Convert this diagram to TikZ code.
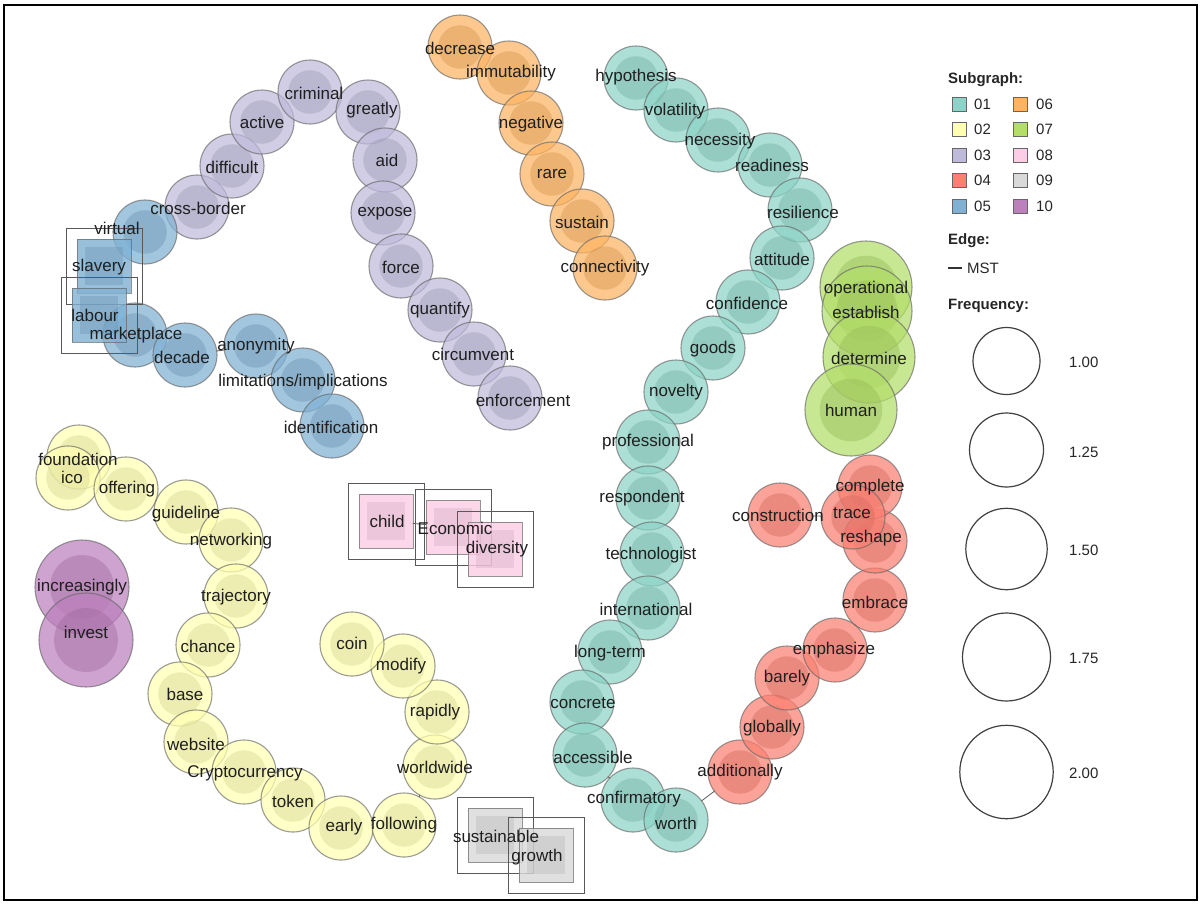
\documentclass[tikz,border=0pt]{standalone}
\usepackage{fontspec}
\setmainfont{Liberation Sans}
\definecolor{c01}{HTML}{8DD3C7}
\definecolor{c02}{HTML}{FFFFB3}
\definecolor{c03}{HTML}{BEBADA}
\definecolor{c04}{HTML}{FB8072}
\definecolor{c05}{HTML}{80B1D3}
\definecolor{c06}{HTML}{FDB462}
\definecolor{c07}{HTML}{B3DE69}
\definecolor{c08}{HTML}{FCCDE5}
\definecolor{c09}{HTML}{D9D9D9}
\definecolor{c10}{HTML}{BC80BD}
\def\circlist{
crossborder/197/207/32/c03/198/208/cross-border,
difficult/232/166/32/c03/232/167/difficult,
active/262/122/32/c03/262/122/active,
criminal/310/92/32/c03/314/93/criminal,
greatly/368/112/32/c03/372/110/greatly,
aid/385/160/32/c03/387/160/aid,
expose/383/213/32/c03/385/214/expose,
force/401/266/32/c03/401/267/force,
quantify/440/310/32/c03/440/310/quantify,
circumvent/474/354/32/c03/473/354/circumvent,
enforcement/510/398/32/c03/523/400/enforcement,
virtual/145/232/32/c05/117/228/virtual,
marketplace/135/335/32/c05/136/335/marketplace,
decade/185/355/32/c05/182/357/decade,
anonymity/256/346/32/c05/256/346/anonymity,
limitations/303/380/32/c05/303/382/{limitations/implications},
identification/332/426/32/c05/331/427/identification,
decrease/460/47/32/c06/460/48/decrease,
immutability/509/73/32/c06/511/73/immutability,
negative/531/123/32/c06/531/124/negative,
rare/552/174/32/c06/552/174/rare,
sustain/582/221/32/c06/582/222/sustain,
connectivity/605/268/32/c06/605/268/connectivity,
hypothesis/636/78/32/c01/636/77/hypothesis,
volatility/676/110/32/c01/675/111/volatility,
necessity/718/140/32/c01/720/141/necessity,
readiness/770/165/32/c01/772/165/readiness,
resilience/800/210/32/c01/803/212/resilience,
attitude/782/258/32/c01/782/259/attitude,
confidence/748/302/32/c01/747/303/confidence,
goods/713/348/32/c01/713/349/goods,
novelty/676/392/32/c01/676/392/novelty,
professional/648/442/32/c01/648/442/professional,
respondent/648/498/32/c01/642/498/respondent,
technologist/652/554/32/c01/651/555/technologist,
international/648/608/32/c01/646/609/international,
longterm/610/652/32/c01/610/653/long-term,
concrete/582/702/32/c01/583/703/concrete,
accessible/585/755/32/c01/593/757/accessible,
confirmatory/633/800/32/c01/634/799/confirmatory,
worth/676/820/32/c01/676/823/worth,
additionally/740/772/32/c04/740/772/additionally,
globally/772/727/32/c04/772/728/globally,
barely/787/678/32/c04/787/678/barely,
emphasize/835/650/32/c04/834/650/emphasize,
embrace/875/600/32/c04/875/602/embrace,
reshape/875/541/32/c04/871/538/reshape,
complete/870/487/32/c04/870/487/complete,
trace/853/517/32/c04/852/513/trace,
construction/780/515/32/c04/778/515/construction,
operational/866/287/46/c07/866/289/operational,
establish/867/311/45/c07/866/312/establish,
determine/869/357/46/c07/869/358/determine,
human/851/410/46/c07/851/410/human,
increasingly/82/587/47/c10/82/587/increasingly,
invest/86/640/47/c10/86/632/invest,
foundation/79/457/32/c02/78/459/foundation,
ico/68/478/32/c02/72/477/ico,
offering/126/489/32/c02/127/489/offering,
guideline/186/512/32/c02/186/514/guideline,
networking/231/540/32/c02/231/541/networking,
trajectory/236/596/32/c02/236/597/trajectory,
chance/208/645/32/c02/208/646/chance,
base/180/694/32/c02/185/694/base,
website/196/742/32/c02/196/744/website,
cryptocurrency/244/772/32/c02/245/773/Cryptocurrency,
token/293/800/32/c02/293/801/token,
early/341/828/32/c02/344/827/early,
following/404/825/32/c02/404/825/following,
worldwide/435/767/32/c02/435/767/worldwide,
rapidly/437/712/32/c02/435/712/rapidly,
modify/403/666/32/c02/401/666/modify,
coin/352/644/32/c02/352/643/coin}
\def\sqlist{
slavery/104/266/c05/99/267/slavery,
labour/99/315/c05/95/315/labour,
child/386/521/c08/387/521/child,
economic/453/527/c08/455/528/Economic,
diversity/495/549/c08/497/549/diversity,
sustainable/495/835/c09/496/836/sustainable,
growth/546/855/c09/537/857/growth}
\begin{document}
\begin{tikzpicture}[x=1pt,y=-1pt,
  wout/.style={circle, draw=black!60, draw opacity=0.65, line width=1.1pt, fill opacity=0.72, inner sep=0pt},
  sqout/.style={rectangle, draw=black!65, line width=1pt, minimum size=76pt, inner sep=0pt},
  sqin/.style={rectangle, draw=black!60, draw opacity=0.7, line width=1pt, fill opacity=0.8, minimum size=54pt, inner sep=0pt},
  wlab/.style={font=\fontsize{17}{19}\selectfont, text=black!88, inner sep=0pt},
  edge/.style={draw=black!65, line width=0.8pt},
  legh/.style={font=\fontsize{15}{17}\selectfont\bfseries, text=black!85, anchor=west, inner sep=0pt},
  legt/.style={font=\fontsize{15}{17}\selectfont, text=black!85, anchor=west, inner sep=0pt},
  legsq/.style={rectangle, draw=black!60, line width=1pt, minimum size=14pt, inner sep=0pt},
  legc/.style={circle, draw=black!75, line width=1.2pt, inner sep=0pt}]
\useasboundingbox (0,0) rectangle (1201,905);
\fill[white] (0,0) rectangle (1201,905);
\draw[line width=2pt] (4,5) rectangle (1197,900);
% coordinates of all words
\foreach \n/\x/\y/\r/\c/\lx/\ly/\t in \circlist { \coordinate (\n) at (\x,\y); }
\foreach \n/\x/\y/\c/\lx/\ly/\t in \sqlist { \coordinate (\n) at (\x,\y); }
% MST edges
\foreach \a/\b in {virtual/crossborder, crossborder/difficult, difficult/active, active/criminal,
  criminal/greatly, greatly/aid, aid/expose, expose/force, force/quantify, quantify/circumvent,
  circumvent/enforcement, virtual/slavery, slavery/labour, labour/marketplace, marketplace/decade,
  decade/anonymity, anonymity/limitations, limitations/identification,
  decrease/immutability, immutability/negative, negative/rare, rare/sustain, sustain/connectivity,
  hypothesis/volatility, volatility/necessity, necessity/readiness, readiness/resilience,
  resilience/attitude, attitude/confidence, confidence/goods, goods/novelty, novelty/professional,
  professional/respondent, respondent/technologist, technologist/international,
  international/longterm, longterm/concrete, concrete/accessible, accessible/confirmatory,
  confirmatory/worth, worth/additionally, additionally/globally, globally/barely, barely/emphasize,
  emphasize/embrace, embrace/reshape, reshape/trace, trace/complete, trace/construction,
  operational/establish, establish/determine, determine/human, increasingly/invest,
  foundation/ico, foundation/offering, offering/guideline, guideline/networking,
  networking/trajectory, trajectory/chance, chance/base, base/website, website/cryptocurrency,
  cryptocurrency/token, token/early, early/following, following/worldwide, worldwide/rapidly,
  rapidly/modify, modify/coin, child/economic, economic/diversity, sustainable/growth}
  { \draw[edge] (\a) -- (\b); }
% opaque white bases hide the edges inside the shapes
\foreach \n/\x/\y/\r/\c/\lx/\ly/\t in \circlist { \fill[white] (\x,\y) circle[radius=\r-1]; }
\foreach \n/\x/\y/\c/\lx/\ly/\t in \sqlist { \fill[white] (\x-26,\y-26) rectangle (\x+26,\y+26); }
% word circles
\foreach \n/\x/\y/\r/\c/\lx/\ly/\t in \circlist {
  \node[wout, fill=\c, minimum size=2*\r] (\n-c) at (\x,\y) {};
  \fill[\c!85!black, fill opacity=0.45] (\x,\y) circle[radius=0.68*\r];
}
% word squares
\foreach \n/\x/\y/\c/\lx/\ly/\t in \sqlist {
  \node[sqout] (\n-o) at (\x,\y) {};
  \node[sqin, fill=\c] (\n-c) at (\x,\y) {};
  \fill[\c!85!black, fill opacity=0.4] (\x-19,\y-19) rectangle (\x+19,\y+19);
}
% labels
\foreach \n/\x/\y/\r/\c/\lx/\ly/\t in \circlist { \node[wlab] (\n-l) at (\lx,\ly) {\t}; }
\foreach \n/\x/\y/\c/\lx/\ly/\t in \sqlist { \node[wlab] (\n-l) at (\lx,\ly) {\t}; }
% legend
\node[legh] (lsub) at (948,80) {Subgraph:};
\foreach \k/\c/\y in {01/c01/104, 02/c02/129, 03/c03/155, 04/c04/180, 05/c05/206} {
  \node[legsq, fill=\c] (lsq\k) at (959.5,\y) {};
  \node[legt] (lt\k) at (974,\y) {\k};
}
\foreach \k/\c/\y in {06/c06/104, 07/c07/129, 08/c08/155, 09/c09/180, 10/c10/206} {
  \node[legsq, fill=\c] (lsq\k) at (1020.5,\y) {};
  \node[legt] (lt\k) at (1036,\y) {\k};
}
\node[legh] (ledge) at (948,241) {Edge:};
\coordinate (lmsta) at (948,268);
\coordinate (lmstb) at (962,268);
\draw[edge, draw=black!80, line width=1.2pt] (lmsta) -- (lmstb);
\node[legt] (lmst) at (967,268) {MST};
\node[legh] (lfreq) at (948,306) {Frequency:};
\foreach \k/\y/\r in {100/361/33.5, 125/450/37, 150/549/40.7, 175/657/44, 200/772/46.7} {
  \node[legc, minimum size=2*\r] (lc\k) at (1006.5,\y) {};
}
\node[legt] (lf1) at (1069,362) {1.00};
\node[legt] (lf2) at (1069,452) {1.25};
\node[legt] (lf3) at (1069,550) {1.50};
\node[legt] (lf4) at (1069,658) {1.75};
\node[legt] (lf5) at (1069,773) {2.00};
\end{tikzpicture}
\end{document}
